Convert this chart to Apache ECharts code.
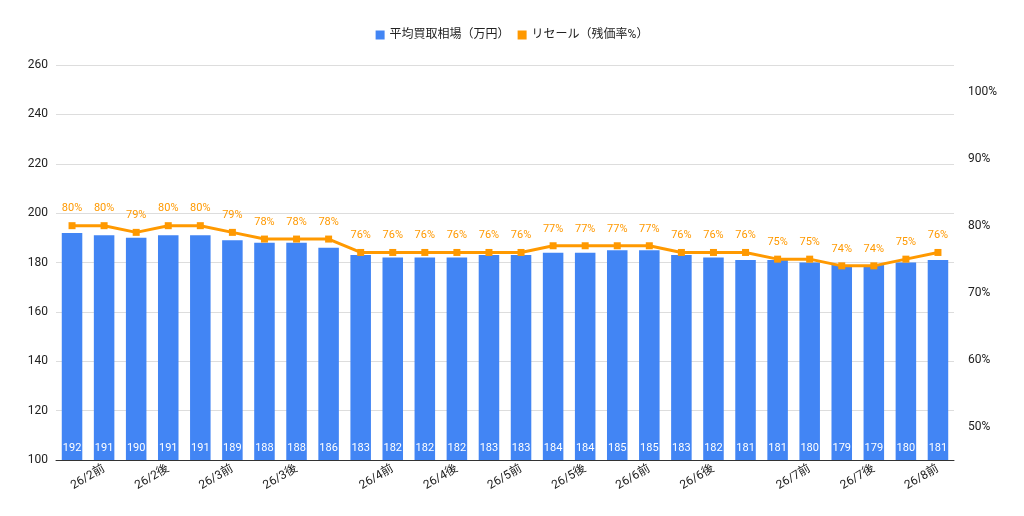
<!DOCTYPE html>
<html>
<head>
<meta charset="utf-8">
<script src="https://cdn.jsdelivr.net/npm/echarts@6/dist/echarts.min.js"></script>
<style>html,body{margin:0;padding:0;background:#fff}#chart{width:1024px;height:516px}</style>
</head>
<body>
<div id="chart"></div>
<script>
// 横軸ラベル（空欄は非表示）
var categories = ['', '26/2前', '', '26/2後', '', '26/3前', '', '26/3後', '', '', '26/4前', '', '26/4後', '', '26/5前', '', '26/5後', '', '26/6前', '', '26/6後', '', '', '26/7前', '', '26/7後', '', '26/8前'];
var priceData = [192, 191, 190, 191, 191, 189, 188, 188, 186, 183, 182, 182, 182, 183, 183, 184, 184, 185, 185, 183, 182, 181, 181, 180, 179, 179, 180, 181];  //平均買取相場
var resaleData = [80, 80, 79, 80, 80, 79, 78, 78, 78, 76, 76, 76, 76, 76, 76, 77, 77, 77, 77, 76, 76, 76, 75, 75, 74, 74, 75, 76];  //残価率
var cats = categories.map(function (c, i) { return c === '' ? ' '.repeat(i + 1) : c; });

var chart = echarts.init(document.getElementById('chart'));
chart.setOption({
    textStyle: { fontFamily: 'Roboto, "Noto Sans CJK JP", sans-serif' },
    legend: {
        top: 24,
        left: 'center',
        icon: 'rect',
        itemWidth: 9,
        itemHeight: 9,
        textStyle: { color: '#222', fontSize: 12 },
        data: ['平均買取相場（万円）', 'リセール（残価率%）']
    },
    grid: { left: 56, right: 70, top: 65, bottom: 56 },
    xAxis: {
        type: 'category',
        data: cats,
        axisTick: { show: false },
        axisLine: { lineStyle: { color: '#333' } },
        axisLabel: {
            interval: 0,
            rotate: 30,
            color: '#222',
            fontSize: 12,
            formatter: function (v) { return v.trim(); }
        }
    },
    yAxis: [{
        type: 'value',
        min: 100,
        max: 260,
        interval: 20,
        axisLine: { show: false },
        axisTick: { show: false },
        axisLabel: { color: '#222', fontSize: 12 },
        splitLine: { lineStyle: { color: '#ddd' } }
    }, {
        type: 'value',
        min: 45,
        max: 104,
        interval: 5,
        axisLine: { show: false },
        axisTick: { show: false },
        splitLine: { show: false },
        axisLabel: {
            color: '#222',
            fontSize: 12,
            margin: 14,
            formatter: function (v) { return v % 10 === 0 && v > 45 ? v + '%' : ''; }
        }
    }],
    series: [{
        name: '平均買取相場（万円）',
        type: 'bar',
        data: priceData,
        barCategoryGap: '36%',
        itemStyle: { color: '#4285F4' },
        label: {
            show: true,
            position: 'insideBottom',
            color: '#fff',
            fontSize: 11,
            distance: 6
        }
    }, {
        name: 'リセール（残価率%）',
        type: 'line',
        yAxisIndex: 1,
        data: resaleData,
        symbol: 'rect',
        symbolSize: 7,
        lineStyle: { color: '#FF9900', width: 3 },
        itemStyle: { color: '#FF9900' },
        label: {
            show: true,
            position: 'top',
            distance: 8,
            color: '#FF9900',
            fontSize: 11,
            formatter: '{c}%'
        }
    }]
});
</script>
</body>
</html>
